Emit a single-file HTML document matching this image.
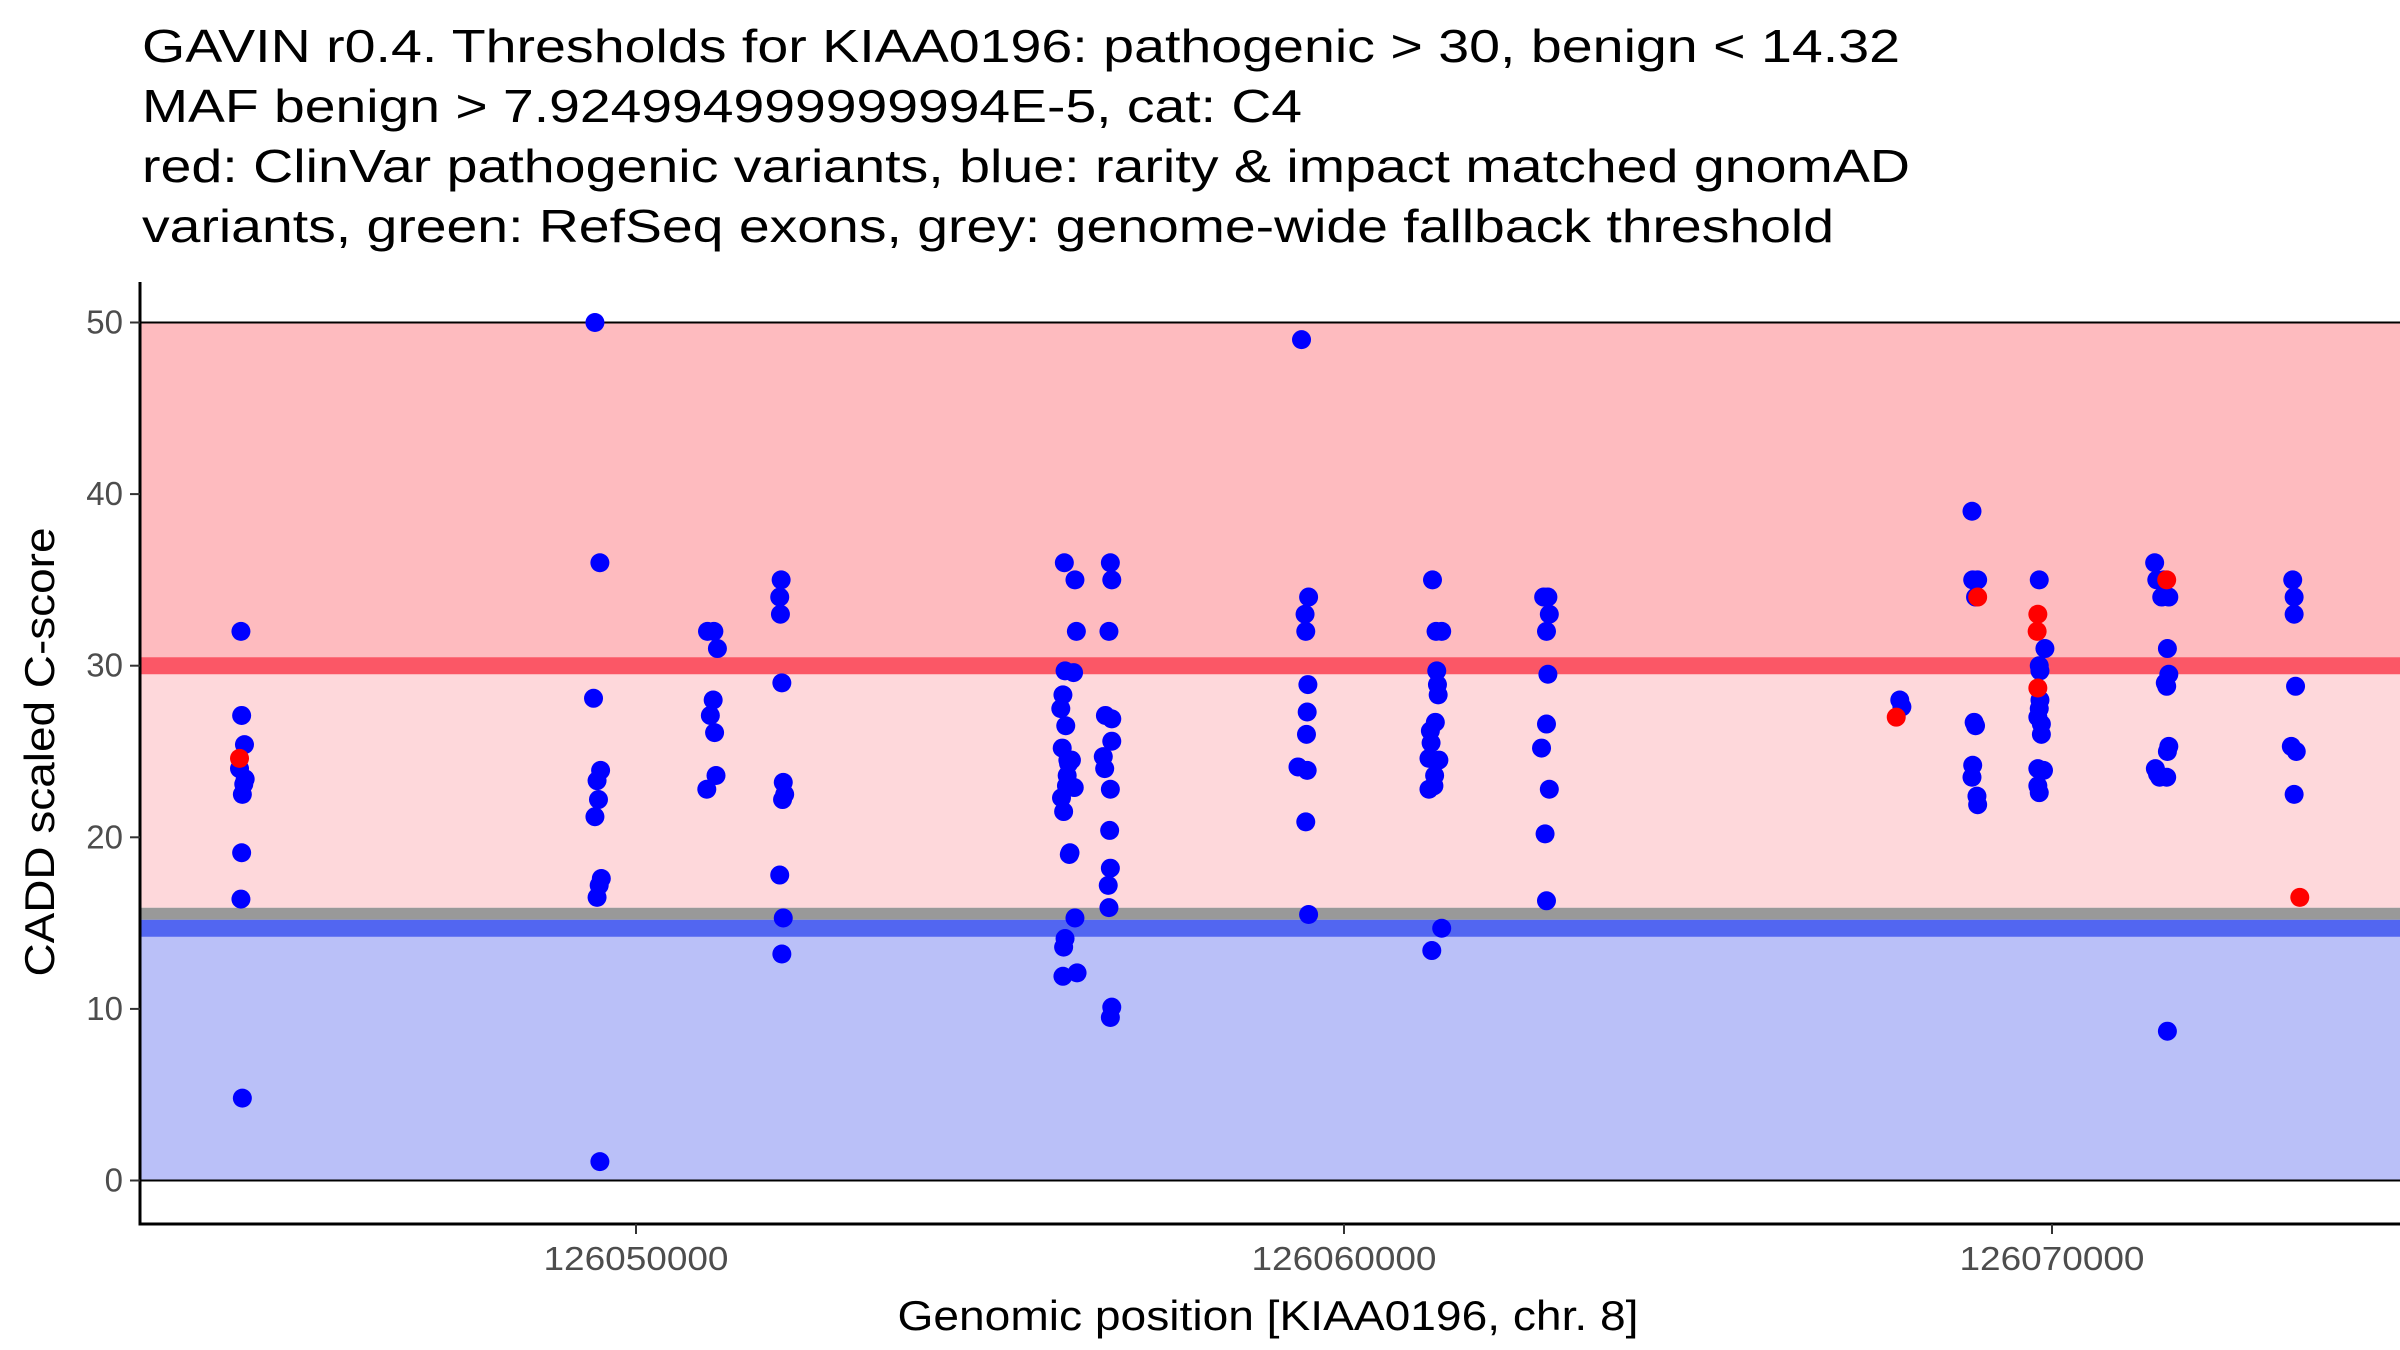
<!DOCTYPE html>
<html><head><meta charset="utf-8"><style>
html,body{margin:0;padding:0;background:#fff;}
svg{display:block;font-family:"Liberation Sans",Arial,sans-serif;}
</style></head><body>
<svg id="chart" width="2400" height="1350" viewBox="0 0 2400 1350" xmlns="http://www.w3.org/2000/svg">
<g font-size="46" fill="#000">
<text x="142" y="62" textLength="1758" lengthAdjust="spacingAndGlyphs">GAVIN r0.4. Thresholds for KIAA0196: pathogenic &gt; 30, benign &lt; 14.32</text>
<text x="142" y="122" textLength="1160" lengthAdjust="spacingAndGlyphs">MAF benign &gt; 7.924994999999994E-5, cat: C4</text>
<text x="142" y="182" textLength="1768" lengthAdjust="spacingAndGlyphs">red: ClinVar pathogenic variants, blue: rarity &amp; impact matched gnomAD</text>
<text x="142" y="242" textLength="1692" lengthAdjust="spacingAndGlyphs">variants, green: RefSeq exons, grey: genome-wide fallback threshold</text>
</g>
<g id="bands"></g>
<g id="points"></g>
<g id="axes"></g>
<text x="0" y="0" font-size="42" text-anchor="middle" textLength="449" lengthAdjust="spacingAndGlyphs" transform="translate(54,752) rotate(-90)">CADD scaled C-score</text>
<text x="1268" y="1330" font-size="42" text-anchor="middle" textLength="741" lengthAdjust="spacingAndGlyphs">Genomic position [KIAA0196, chr. 8]</text>
</svg>
<script>
const yTicks=[0,10,20,30,40,50];
const xTicks=[126050000,126060000,126070000];
const benignPos=[126044420,126044430,126044470,126044400,126044480,126044440,126044460,126044430,126044420,126044440,
126049420,126049490,126049400,126049500,126049450,126049470,126049420,126049510,126049480,126049450,126049490,
126051010,126051100,126051150,126051090,126051050,126051110,126051130,126051000,
126052050,126052030,126052040,126052060,126052080,126052100,126052070,126052030,126052080,126052060,
126056050,126056060,126056030,126056000,126056070,126056020,126056110,126056090,126056010,126056040,126056060,126056040,126056030,126056120,126056100,126056080,
126056200,126056220,126056180,126056150,126056190,126056130,126056200,126056230,
126056700,126056720,126056680,126056630,126056720,126056720,126056600,126056620,126056700,126056690,126056700,126056670,126056680,126056720,126056700,
126059400,126059500,126059450,126059460,126059490,126059480,126059470,126059350,126059480,126059460,126059500,
126061250,126061300,126061380,126061310,126061320,126061330,126061290,126061220,126061230,126061200,126061340,126061280,126061270,126061200,126061380,126061240,
126062820,126062880,126062900,126062860,126062880,126062860,126062790,126062900,126062840,126062860,
126067850,126067880,
126068870,126068880,126068950,126068920,126068900,126068920,126068880,126068870,126068940,126068950,
126069820,126069900,126069820,126069830,126069830,126069820,126069800,126069850,126069850,126069800,126069880,126069800,126069820,
126071450,126071480,126071580,126071550,126071650,126071630,126071650,126071600,126071620,126071650,126071630,126071460,126071490,126071520,126071620,126071630,
126073400,126073420,126073420,126073440,126073380,126073450,126073420];
const benignScore=[32,27.1,25.4,24,23.4,22.5,23.1,19.1,16.4,4.8,
50,36,28.1,23.9,23.3,22.2,21.2,17.6,17.2,16.5,1.1,
32,32,31,28,27.1,26.1,23.6,22.8,
35,34,33,29,23.2,22.5,22.2,17.8,15.3,13.2,
36,29.7,28.3,27.5,26.5,25.2,24.3,23.6,22.3,21.5,14.1,13.6,11.9,19,24.5,23,
35,32,29.6,24.5,22.9,19.1,15.3,12.1,
36,35,32,27.1,26.9,25.6,24.7,24,22.8,20.4,18.2,17.2,15.9,10.1,9.5,
49,34,33,32,28.9,27.3,26,24.1,23.9,20.9,15.5,
35,32,32,29.7,28.9,28.3,26.7,26.2,25.5,24.6,24.5,23.6,23,22.8,14.7,13.4,
34,34,33,32,29.5,26.6,25.2,22.8,20.2,16.3,
28,27.6,
39,35,35,34,26.7,26.5,24.2,23.5,22.4,21.9,
35,31,30,29.7,28,27.5,27,26.6,26,24,23.9,23,22.6,
36,35,35,34,34,31,29.5,29,28.8,25.3,25,24,23.7,23.5,23.5,8.7,
35,34,33,28.8,25.3,25,22.5];
const pathoPos=[126044400,126067800,126068950,126069800,126069790,126069800,126071620,126073500];
const pathoScore=[24.6,27,34,33,32,28.7,35,16.5];
const bandLo=[0,14.2,15.2,15.9,29.5,30.5];
const bandHi=[14.2,15.2,15.9,29.5,30.5,50];
const bandColor=['#BAC0F8','#5266F1','#999999','#FED8DB','#FB5766','#FEBBBF'];
const bandName=['benign-region','benign-threshold-line','fallback-threshold-line','intermediate-region','pathogenic-threshold-line','pathogenic-region'];

const NS='http://www.w3.org/2000/svg';
const X0=140,X1=2400,Y0=282,Y1=1224;
function sx(p){return 636+(p-126050000)*0.0708;}
function sy(v){return 1180.5-v*17.16;}
function mk(t,a,parent){const e=document.createElementNS(NS,t);for(const k in a)e.setAttribute(k,a[k]);parent.appendChild(e);return e;}
const bands=document.getElementById('bands');
for(let i=0;i<bandLo.length;i++){
 const r=mk('rect',{x:X0,y:sy(bandHi[i]),width:X1-X0,height:sy(bandLo[i])-sy(bandHi[i]),fill:bandColor[i]},bands);
 
 
}
[0,50].forEach(v=>{const l=mk('line',{x1:X0,x2:X1,y1:sy(v),y2:sy(v),stroke:'#000','stroke-width':2},bands);
 
 });
const pts=document.getElementById('points');
for(let i=0;i<benignPos.length;i++){
 const c=mk('circle',{cx:sx(benignPos[i]),cy:sy(benignScore[i]),r:9.5,fill:'#0000FF'},pts);
 
 
}
for(let i=0;i<pathoPos.length;i++){
 const c=mk('circle',{cx:sx(pathoPos[i]),cy:sy(pathoScore[i]),r:9.5,fill:'#FF0000'},pts);
 
 
}
const ax=document.getElementById('axes');
const ya=mk('line',{x1:X0,x2:X0,y1:Y0,y2:Y1+1.5,stroke:'#000','stroke-width':3},ax);


const xa=mk('line',{x1:X0-1.5,x2:X1,y1:Y1,y2:Y1,stroke:'#000','stroke-width':3},ax);


yTicks.forEach(v=>{
 const t=mk('line',{x1:X0-10,x2:X0,y1:sy(v),y2:sy(v),stroke:'#333','stroke-width':2},ax);
 
 
 const l=mk('text',{x:X0-17,y:sy(v)+11,'font-size':33,fill:'#4D4D4D','text-anchor':'end'},ax);
 l.textContent=v;
 
 
});
xTicks.forEach(v=>{
 const t=mk('line',{x1:sx(v),x2:sx(v),y1:Y1,y2:Y1+10,stroke:'#333','stroke-width':2},ax);
 
 
 const l=mk('text',{x:sx(v),y:Y1+46,'font-size':33,fill:'#4D4D4D','text-anchor':'middle',textLength:185,lengthAdjust:'spacingAndGlyphs'},ax);
 l.textContent=v;
 
 
});
</script>
</body></html>
